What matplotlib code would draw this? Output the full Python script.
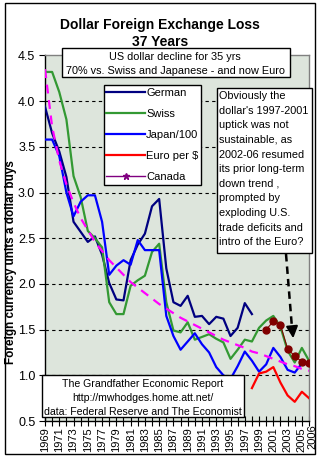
import matplotlib
matplotlib.use("Agg")
import matplotlib.pyplot as plt
from matplotlib.patches import Rectangle
from matplotlib.lines import Line2D

plt.rcParams['font.family'] = ['Liberation Sans', 'DejaVu Sans']

# ---------------- data ----------------
years_german = list(range(1969, 1999))
german = [3.94, 3.65, 3.45, 3.17, 2.68, 2.57, 2.46, 2.52, 2.32, 2.01, 1.83, 1.82,
          2.26, 2.43, 2.55, 2.85, 2.93, 2.17, 1.80, 1.76, 1.87, 1.64, 1.65, 1.56,
          1.64, 1.62, 1.43, 1.52, 1.79, 1.67]

years_swiss = list(range(1969, 2007))
swiss = [4.32, 4.32, 4.10, 3.80, 3.18, 2.95, 2.58, 2.50, 2.40, 1.80, 1.67, 1.67,
         1.98, 2.04, 2.09, 2.35, 2.44, 1.80, 1.49, 1.47, 1.58, 1.39, 1.42, 1.45,
         1.40, 1.36, 1.18, 1.28, 1.39, 1.37, 1.52, 1.60, 1.65, 1.53, 1.27, 1.14,
         1.30, 1.16]

years_japan = list(range(1969, 2007))
japan = [3.58, 3.58, 3.40, 3.00, 2.74, 2.90, 2.97, 2.97, 2.68, 2.10, 2.20, 2.26,
         2.21, 2.48, 2.37, 2.37, 2.37, 1.65, 1.43, 1.28, 1.37, 1.46, 1.34, 1.25,
         1.09, 1.00, 0.96, 1.10, 1.26, 1.16, 1.04, 1.12, 1.30, 1.20, 1.06, 1.03,
         1.13, 1.12]

years_euro = list(range(1998, 2007))
euro = [0.86, 1.02, 1.04, 1.09, 0.92, 0.78, 0.71, 0.82, 0.75]

years_canada = list(range(2000, 2007))
canada = [1.50, 1.59, 1.55, 1.29, 1.21, 1.15, 1.14]

years_trend = list(range(1969, 2007))
trend = [4.35, 3.72, 3.35, 3.09, 2.89, 2.72, 2.59, 2.46, 2.36, 2.26, 2.18, 2.10,
         2.02, 1.96, 1.90, 1.84, 1.78, 1.73, 1.68, 1.63, 1.59, 1.55, 1.51, 1.47,
         1.43, 1.39, 1.36, 1.33, 1.30, 1.26, 1.24, 1.21, 1.18, 1.15, 1.12, 1.10,
         1.07, 1.05]

xtick_years = list(range(1969, 2007))
xlabel_years = list(range(1969, 2006, 2))
yticks = [0.5, 1.0, 1.5, 2.0, 2.5, 3.0, 3.5, 4.0, 4.5]

# ---------------- figure ----------------
W, H = 325, 461
fig = plt.figure(figsize=(W / 100, H / 100), dpi=100)
fig.patch.set_facecolor('white')


def fx(x):
    return x / W


def fy(y):
    return 1 - y / H


L, R, T, B = 45, 309, 55.5, 421
ax = fig.add_axes([fx(L), fy(B), (R - L) / W, (B - T) / H])
ax.set_facecolor('#DDE5DC')
ax.set_xlim(1969, 2006)
ax.set_ylim(0.5, 4.5)

for y in yticks[1:-1]:
    ax.axhline(y, color='black', lw=0.8, ls=(0, (3, 3)), zorder=1)

ax.plot(years_german, german, color='#000080', lw=1.6, zorder=3)
ax.plot(years_swiss, swiss, color='#339933', lw=1.6, zorder=3)
ax.plot(years_japan, japan, color='#0000FF', lw=1.6, zorder=3)
ax.plot(years_euro, euro, color='#FF0000', lw=1.6, zorder=3)
ax.plot(years_canada, canada, color='#800000', lw=0.8, marker='o', ms=5,
        mfc='#800000', mec='#800000', zorder=4)
ax.plot(years_trend, trend, color='#FF00FF', lw=1.6, ls=(0, (4, 3)), zorder=5)

ax.set_yticks(yticks)
ax.set_yticklabels([f'{v:.1f}' for v in yticks], fontsize=9)
ax.set_xticks(xtick_years)
ax.set_xticklabels([str(y) if y in xlabel_years else '' for y in xtick_years],
                   rotation=90, fontsize=8)
ax.tick_params(axis='y', direction='out', length=4, width=0.8, pad=3)
ax.tick_params(axis='x', direction='inout', length=7, width=0.8, pad=1)
fig.text(fx(312.5), fy(424), '2006', rotation=90, fontsize=8, ha='center', va='top')

ax.spines['left'].set_color('black')
ax.spines['bottom'].set_color('black')
ax.spines['top'].set_color('#808080')
ax.spines['right'].set_color('#808080')
for s in ax.spines.values():
    s.set_linewidth(1)

# y-axis title placed in figure pixels
fig.text(fx(11), fy(262), 'Foreign currency units a dollar buys', fontsize=8.5,
         fontweight='bold', rotation=90, ha='center', va='center')

# Title
fig.text(fx(160), fy(25), 'Dollar Foreign Exchange Loss', fontsize=10,
         fontweight='bold', ha='center', va='center')
fig.text(fx(160), fy(41.5), '37 Years', fontsize=10, fontweight='bold',
         ha='center', va='center')

# Legend
handles = [Line2D([], [], color='#000080', lw=1.6),
           Line2D([], [], color='#339933', lw=1.6),
           Line2D([], [], color='#0000FF', lw=1.6),
           Line2D([], [], color='#FF0000', lw=1.6),
           Line2D([], [], color='#800080', lw=1, marker='*', ms=5)]
labels = ['German', 'Swiss', 'Japan/100', 'Euro per $', 'Canada']
leg = ax.legend(handles, labels, loc='upper left',
                bbox_to_anchor=(fx(103.5), fy(85)), bbox_transform=fig.transFigure,
                fontsize=8, frameon=True, fancybox=False, edgecolor='black',
                facecolor='white', framealpha=1, handlelength=3.5,
                handletextpad=0.1, labelspacing=1.0, borderpad=0.25,
                borderaxespad=0)
leg.get_frame().set_linewidth(1)
leg.set_zorder(10)


def box(x0, y0, x1, y1):
    r = Rectangle((fx(x0), fy(y1)), fx(x1) - fx(x0), fy(y0) - fy(y1),
                  transform=fig.transFigure, facecolor='white',
                  edgecolor='black', lw=1, zorder=20)
    fig.add_artist(r)


# Top box
box(61.7, 48.3, 290, 77.3)
fig.text(fx(175), fy(56.7), 'US dollar decline for 35 yrs', fontsize=7.8,
         ha='center', va='center', zorder=21)
fig.text(fx(175), fy(70.7), '70% vs. Swiss and Japanese - and now Euro',
         fontsize=7.8, ha='center', va='center', zorder=21)

# Right box
box(216.7, 88.3, 312.3, 252.7)
right_lines = ["Obviously the", "dollar's 1997-2001", "uptick was not",
               "sustainable, as", "2002-06 resumed", "its prior long-term",
               "down trend ,", "prompted by", "exploding U.S.",
               "trade deficits and", "intro of the Euro?"]
for i, line in enumerate(right_lines):
    fig.text(fx(219), fy(96 + i * 14.63), line, fontsize=7.8, ha='left',
             va='center', zorder=21)

# Bottom box
box(41.7, 375.3, 244, 417.3)
bottom_lines = ["The Grandfather Economic Report", "http://mwhodges.home.att.net/",
                "data: Federal Reserve and The Economist"]
for i, line in enumerate(bottom_lines):
    fig.text(fx(143), fy(383.5 + i * 14.4), line, fontsize=7.6, ha='center',
             va='center', zorder=21)

# Arrow
fig.add_artist(Line2D([fx(286), fx(292)], [fy(254), fy(328)],
                      transform=fig.transFigure, color='black', lw=1.8,
                      ls=(0, (3, 2)), zorder=22))
ax.annotate('', xy=(fx(293.5), fy(341)), xycoords='figure fraction',
            xytext=(fx(292), fy(326)), textcoords='figure fraction',
            arrowprops=dict(arrowstyle='-|>,head_length=0.7,head_width=0.35',
                            color='black', lw=1.5), zorder=22)

# Outer border
fig.add_artist(Rectangle((fx(5), fy(454)), fx(315) - fx(5), fy(3) - fy(454),
                         transform=fig.transFigure, fill=False,
                         edgecolor='black', lw=1, zorder=30))

fig.savefig('out.png', dpi=100)
